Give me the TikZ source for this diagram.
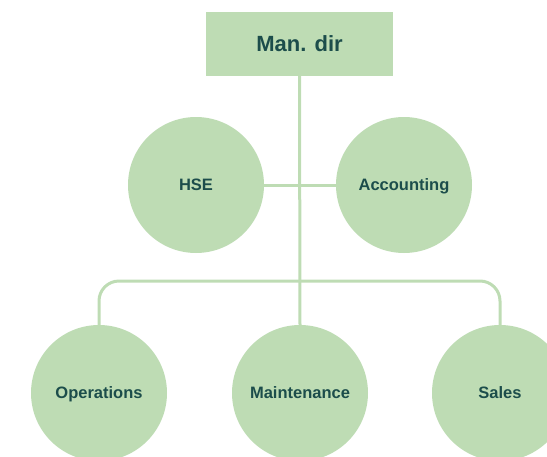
\documentclass[tikz,border=0pt]{standalone}
\usepackage{fontspec}
\setmainfont{Liberation Sans}
\definecolor{leaf}{HTML}{BEDCB4}
\definecolor{ink}{HTML}{1C4D4B}
\begin{document}
\begin{tikzpicture}[x=1pt,y=-1pt,
  unit/.style={circle,fill=leaf,minimum size=136pt,inner sep=0pt,text=ink,text height=11.8pt,text depth=0pt,font=\bfseries\fontsize{16.5}{18}\selectfont},
  head/.style={rectangle,fill=leaf,minimum width=187pt,minimum height=64pt,inner sep=0pt,text=ink,text height=15.8pt,text depth=0pt,font=\bfseries\fontsize{22}{26}\selectfont},
  link/.style={draw=leaf,line width=3pt}]
\useasboundingbox (0,0) rectangle (547,456);
\node[head] (md) at (299.5,44) {Man. dir};
\node[unit] (hse) at (196,185) {HSE};
\node[unit] (acc) at (404,185) {Accounting};
\node[unit] (ops) at (99,393) {Operations};
\node[unit] (mnt) at (300,393) {Maintenance};
\node[unit] (sal) at (500,393) {Sales};
\coordinate (bar) at (300,281);
\draw[link] (md.south) -- (mnt.north);
\draw[link] (hse.east) -- (acc.west);
\draw[link,rounded corners=20pt] (ops.north) -- (ops.north |- bar) -- (sal.north |- bar) -- (sal.north);
\end{tikzpicture}
\end{document}
